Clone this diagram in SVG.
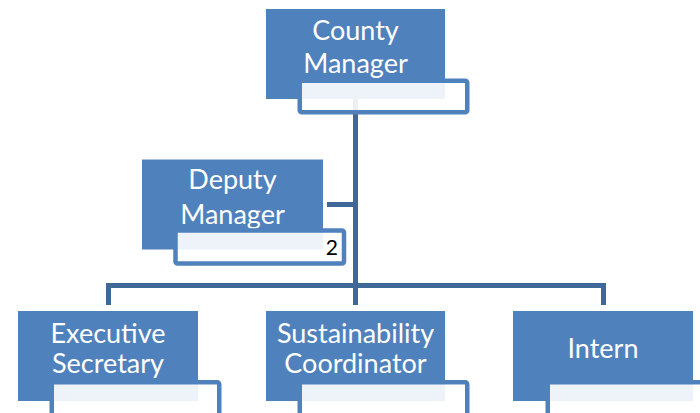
<svg xmlns="http://www.w3.org/2000/svg" width="700" height="413" viewBox="0 0 700 413">
<style>
.box{fill:#4F81BD;}
.sub{fill:#FFFFFF;fill-opacity:0.9;stroke:#4F81BD;stroke-width:4.5;}
.lbl{font-family:Lato,"Liberation Sans",sans-serif;font-size:27px;fill:#FFFFFF;text-anchor:middle;}
.num{font-family:Lato,"Liberation Sans",sans-serif;font-size:21px;fill:#000000;text-anchor:end;}
.conn{fill:none;stroke:#3F6898;stroke-width:5;stroke-linejoin:miter;}
</style>
<rect width="700" height="413" fill="#FFFFFF"/>
<g id="connectors">
<path class="conn" d="M355.5,99 V305"/>
<path class="conn" d="M327,204.5 H355.5"/>
<path class="conn" d="M108.5,305 V285.5 H603.5 V305"/>
</g>
<g id="county-manager">
<rect class="box" x="266" y="9" width="179" height="90"/>
<text class="lbl" x="355.5" y="40">County</text>
<text class="lbl" x="355.5" y="73">Manager</text>
<rect class="sub" x="299.75" y="80.75" width="167.5" height="31.5" rx="2"/>
</g>
<g id="deputy-manager">
<rect class="box" x="142" y="159.5" width="181" height="90"/>
<text class="lbl" x="232.5" y="189">Deputy</text>
<text class="lbl" x="232.5" y="223.5">Manager</text>
<rect class="sub" x="175.5" y="230.5" width="168.5" height="33" rx="2"/>
<text class="num" x="338" y="255">2</text>
</g>
<g id="executive-secretary">
<rect class="box" x="18" y="311" width="180" height="90"/>
<text class="lbl" x="108" y="342.5">Executive</text>
<text class="lbl" x="108" y="373">Secretary</text>
<rect class="sub" x="51.75" y="382.25" width="167.5" height="33" rx="2"/>
</g>
<g id="sustainability-coordinator">
<rect class="box" x="266" y="311" width="179" height="90"/>
<text class="lbl" x="355.5" y="343">Sustainability</text>
<text class="lbl" x="355.5" y="373">Coordinator</text>
<rect class="sub" x="299.75" y="382.25" width="167.5" height="33" rx="2"/>
</g>
<g id="intern">
<rect class="box" x="513" y="311" width="180" height="90"/>
<text class="lbl" x="603" y="358">Intern</text>
<rect class="sub" x="547.75" y="382.25" width="167.5" height="33" rx="2"/>
</g>
</svg>
